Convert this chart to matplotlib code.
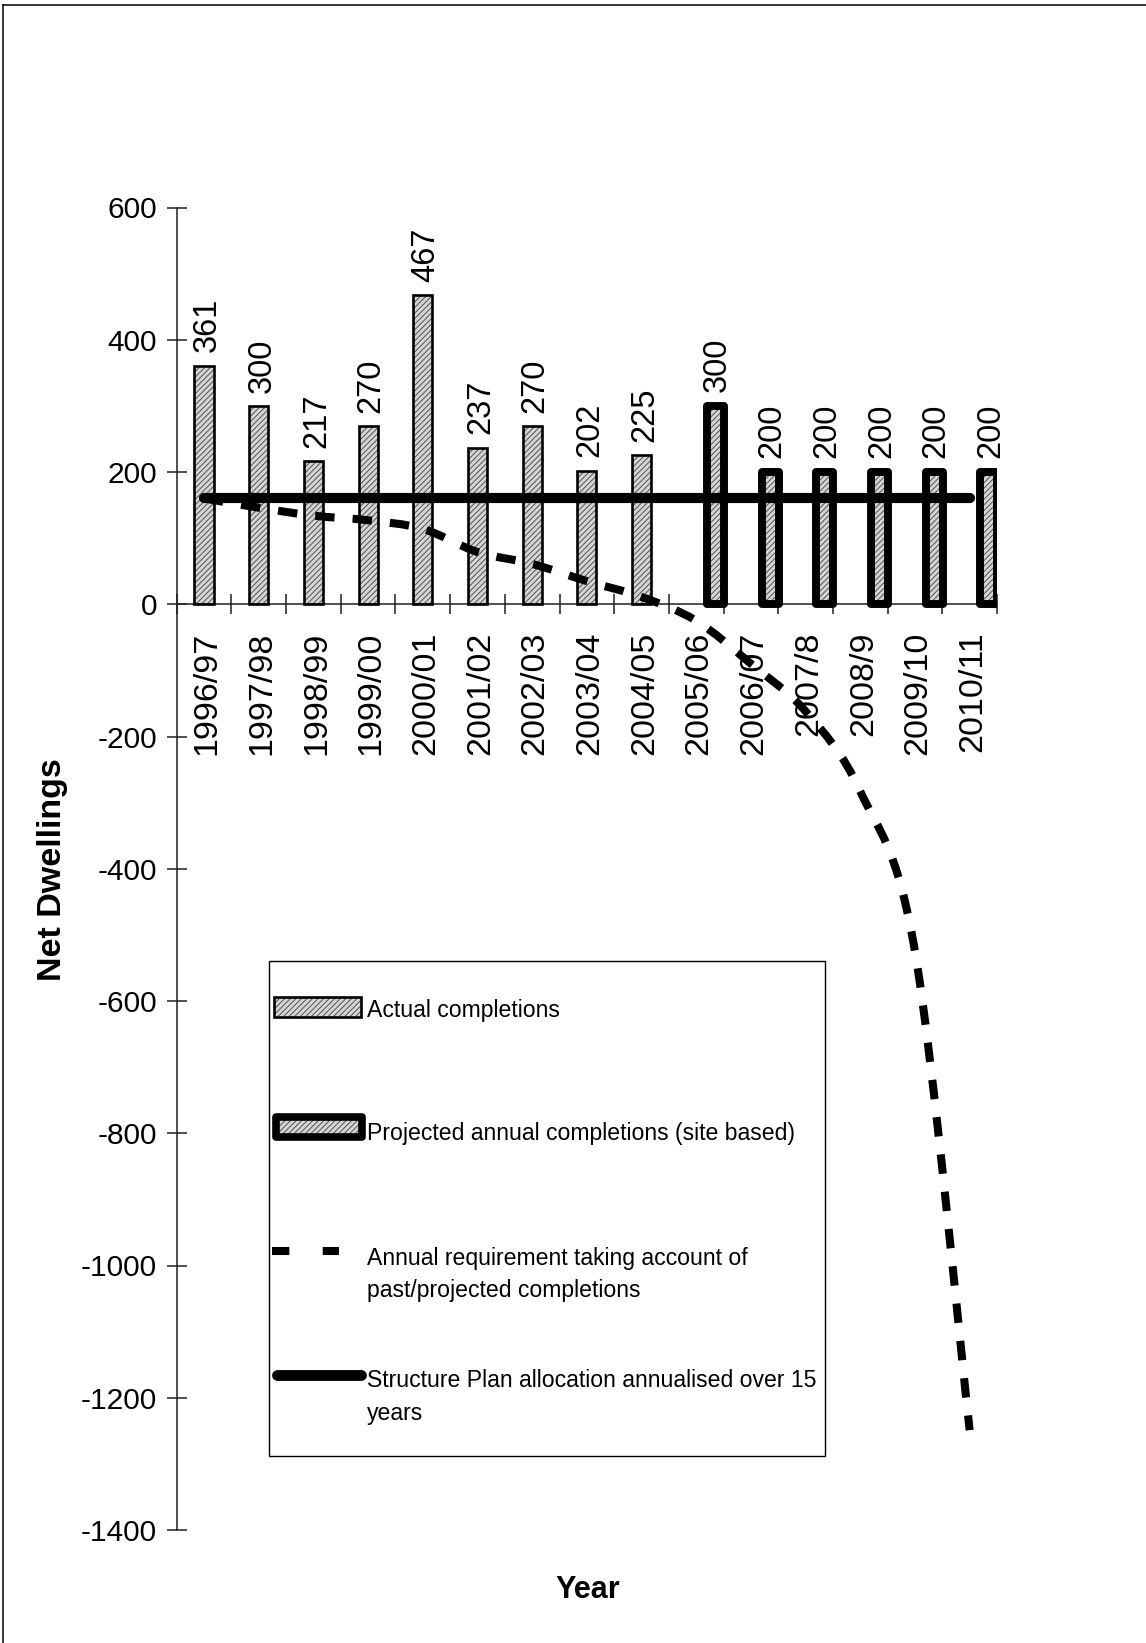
import numpy as np
import matplotlib
matplotlib.use("Agg")
import matplotlib.pyplot as plt
from matplotlib import font_manager as fm
from matplotlib.path import Path
from matplotlib.patches import PathPatch, Rectangle
from matplotlib.lines import Line2D
import matplotlib.transforms as mtrans

# ---------------- data ----------------
years = ["1996/97", "1997/98", "1998/99", "1999/00", "2000/01", "2001/02",
         "2002/03", "2003/04", "2004/05", "2005/06", "2006/07", "2007/8",
         "2008/9", "2009/10", "2010/11"]
actual = [361, 300, 217, 270, 467, 237, 270, 202, 225]          # 1996/97 - 2004/05
projected = [300, 200, 200, 200, 200, 200]                      # 2005/06 - 2010/11
requirement = [160, 146, 134, 127, 114, 79, 61, 35, 11, -25, -90, -162, -283, -525, -1249]
allocation = [160, 160, 160, 160, 160, 160, 160, 160, 160, 160, 160, 160, 160, 160, 160]
yticks = [-1400, -1200, -1000, -800, -600, -400, -200, 0, 200, 400, 600]

legend_labels = ["Actual completions",
                 "Projected annual completions (site based)",
                 ["Annual requirement taking account of", "past/projected completions"],
                 ["Structure Plan allocation annualised over 15", "years"]]


def has_font(name):
    try:
        fm.findfont(fm.FontProperties(family=name), fallback_to_default=False)
        return True
    except Exception:
        return False


BASE = "Liberation Sans" if has_font("Liberation Sans") else "DejaVu Sans"
if has_font("Liberation Sans Narrow"):
    LEG_FONT, LEG_SIZE = "Liberation Sans Narrow", 20.5
else:
    LEG_FONT, LEG_SIZE = BASE, 16.6

plt.rcParams["font.family"] = [BASE, "DejaVu Sans"]
plt.rcParams["axes.unicode_minus"] = False
plt.rcParams["lines.scale_dashes"] = False
plt.rcParams["hatch.linewidth"] = 0.65

W, H = 1146, 1643
fig = plt.figure(figsize=(W / 100, H / 100), dpi=100)


def fx(x):
    return x / W


def fy(y):
    return 1 - y / H


ax_left, ax_right = 176.7, 997.0
ax_top, ax_bot = 207.5, 1530.0
ax = fig.add_axes([fx(ax_left), fy(ax_bot), (ax_right - ax_left) / W, (ax_bot - ax_top) / H])
ax.set_xlim(-0.5, 14.5)
ax.set_ylim(-1400, 600)

HATCH = "//////"
FACE = "#d4d4d4"
HCOL = "#4a4a4a"

# actual completions bars
x_act = np.arange(len(actual))
ax.bar(x_act, actual, width=0.35, facecolor=FACE, edgecolor=HCOL, hatch=HATCH,
       linewidth=0, zorder=2)
ax.bar(x_act, actual, width=0.35, fill=False, edgecolor="black", linewidth=1.9, zorder=3)

# projected bars
x_proj = np.arange(len(actual), len(years)) + 0.353
ax.bar(x_proj, projected, width=0.31, facecolor=FACE, edgecolor=HCOL, hatch=HATCH,
       linewidth=0, zorder=2)
proj_out = ax.bar(x_proj, projected, width=0.31, fill=False, edgecolor="black",
                  linewidth=5.7, zorder=3)
for p in proj_out:
    p.set_joinstyle("round")

# data labels
for x, v in zip(x_act, actual):
    ax.annotate(str(v), xy=(x, v), xytext=(2.2, 9.5), textcoords="offset points",
                rotation=90, ha="center", va="bottom", fontsize=23.5)
for x, v in zip(x_proj, projected):
    ax.annotate(str(v), xy=(x, v), xytext=(1.5, 10.0), textcoords="offset points",
                rotation=90, ha="center", va="bottom", fontsize=23.5)

# smoothed requirement line (Excel style Bezier smoothing)
P = np.column_stack([np.arange(len(requirement)), np.array(requirement, float)])
n = len(P)
verts = [P[0]]
codes = [Path.MOVETO]
for i in range(n - 1):
    pm = P[max(i - 1, 0)]
    p0 = P[i]
    p1 = P[i + 1]
    p2 = P[min(i + 2, n - 1)]
    c1 = p0 + (p1 - pm) / 6.0
    c2 = p1 - (p2 - p0) / 6.0
    verts += [c1, c2, p1]
    codes += [Path.CURVE4] * 3
req_patch = PathPatch(Path(np.array(verts), codes), fill=False, edgecolor="black",
                      linewidth=5.8, linestyle=(0, (14.0, 13.0)), capstyle="butt", zorder=4)
ax.add_patch(req_patch)

# structure plan allocation line
ax.plot(np.arange(len(allocation)), allocation, color="black", linewidth=7.3,
        solid_capstyle="round", zorder=5)

# axes styling
for s in ["top", "right"]:
    ax.spines[s].set_visible(False)
ax.spines["bottom"].set_position(("data", 0))
ax.spines["left"].set_linewidth(1.1)
ax.spines["bottom"].set_linewidth(1.1)
ax.spines["left"].set_color("#202020")
ax.spines["bottom"].set_color("#202020")

ax.set_yticks(yticks)
ax.set_yticklabels([str(t) for t in yticks], fontsize=21.5)
ax.tick_params(axis="y", direction="inout", length=13.7, width=1.1, pad=7.3, color="#202020")

ax.set_xticks(np.arange(len(years)))
ax.set_xticklabels(years, rotation=90, fontsize=24.5)
ax.tick_params(axis="x", which="major", length=0, pad=19.5)
ax.set_xticks(np.arange(-0.5, len(years), 1.0), minor=True)
ax.tick_params(axis="x", which="minor", direction="inout", length=15, width=1.1, color="#202020")
shift = mtrans.ScaledTranslation(3 / 100, 0, fig.dpi_scale_trans)
for lab in ax.get_xticklabels():
    lab.set_transform(lab.get_transform() + shift)

# axis titles
fig.text(fx(52), fy(870), "Net Dwellings", rotation=90, ha="center", va="center",
         fontsize=24.5, fontweight="bold")
fig.text(fx(588), fy(1590), "Year", ha="center", va="center", fontsize=22, fontweight="bold")

# ---------------- legend (manual) ----------------
tf = fig.transFigure
fig.add_artist(Rectangle((fx(269), fy(1456)), (825 - 269) / W, (1456 - 961) / H,
                         transform=tf, fill=False, edgecolor="black", linewidth=1.0))
# actual handle
fig.add_artist(Rectangle((fx(274), fy(1016.5)), (361 - 274) / W, 19.5 / H, transform=tf,
                         facecolor=FACE, edgecolor=HCOL, hatch=HATCH, linewidth=0))
fig.add_artist(Rectangle((fx(274), fy(1016.5)), (361 - 274) / W, 19.5 / H, transform=tf,
                         fill=False, edgecolor="black", linewidth=1.9))
# projected handle
fig.add_artist(Rectangle((fx(276), fy(1137)), (362 - 276) / W, 20 / H, transform=tf,
                         facecolor=FACE, edgecolor=HCOL, hatch=HATCH, linewidth=0))
fig.add_artist(Rectangle((fx(276), fy(1137)), (362 - 276) / W, 20 / H, transform=tf,
                         fill=False, edgecolor="black", linewidth=5.5, joinstyle="round"))
# requirement handle
fig.add_artist(Line2D([fx(271.5), fx(339)], [fy(1251), fy(1251)], transform=tf,
                      color="black", linewidth=5.8, linestyle=(0, (12.5, 24.0)),
                      dash_capstyle="butt"))
# allocation handle
fig.add_artist(Line2D([fx(276.5), fx(361)], [fy(1375), fy(1375)], transform=tf,
                      color="black", linewidth=7.8, solid_capstyle="round"))

tx = fx(367)
fig.text(tx, fy(1016.5), legend_labels[0], ha="left", va="baseline",
         fontsize=LEG_SIZE, family=LEG_FONT)
fig.text(tx, fy(1140), legend_labels[1], ha="left", va="baseline",
         fontsize=LEG_SIZE, family=LEG_FONT)
fig.text(tx, fy(1265), legend_labels[2][0], ha="left", va="baseline",
         fontsize=LEG_SIZE, family=LEG_FONT)
fig.text(tx, fy(1297), legend_labels[2][1], ha="left", va="baseline",
         fontsize=LEG_SIZE, family=LEG_FONT)
fig.text(tx, fy(1387), legend_labels[3][0], ha="left", va="baseline",
         fontsize=LEG_SIZE, family=LEG_FONT)
fig.text(tx, fy(1420), legend_labels[3][1], ha="left", va="baseline",
         fontsize=LEG_SIZE, family=LEG_FONT)

# outer frame (top and left edges)
fig.add_artist(Line2D([fx(3), 1.0], [fy(5), fy(5)], transform=tf, color="black", linewidth=1.1))
fig.add_artist(Line2D([fx(3), fx(3)], [fy(5), 0.0], transform=tf, color="black", linewidth=1.1))

fig.savefig("out.png", dpi=100)
